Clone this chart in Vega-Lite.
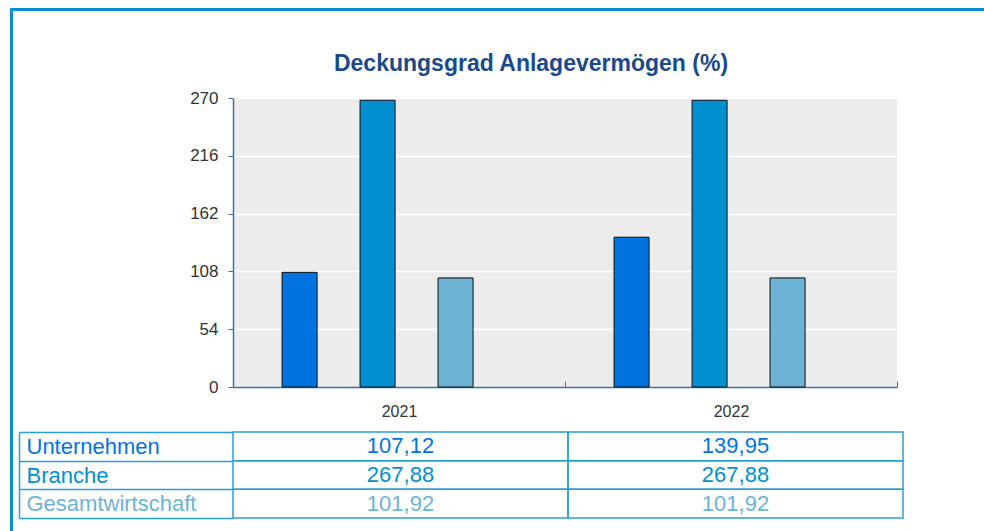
{
  "$schema": "https://vega.github.io/schema/vega-lite/v6.json",
  "background": "white",
  "padding": {"left": 10, "top": 8, "right": 0, "bottom": 0},
  "spacing": 0,
  "datasets": {
    "werte": [
      {"Jahr": "2021", "Reihe": "Unternehmen", "Wert": 107.12},
      {"Jahr": "2021", "Reihe": "Branche", "Wert": 267.88},
      {"Jahr": "2021", "Reihe": "Gesamtwirtschaft", "Wert": 101.92},
      {"Jahr": "2022", "Reihe": "Unternehmen", "Wert": 139.95},
      {"Jahr": "2022", "Reihe": "Branche", "Wert": 267.88},
      {"Jahr": "2022", "Reihe": "Gesamtwirtschaft", "Wert": 101.92}
    ],
    "leer": []
  },
  "config": {
    "font": "Liberation Sans",
    "locale": {"number": {"decimal": ",", "thousands": ".", "grouping": [3], "currency": ["", " €"]}},
    "view": {"stroke": null}
  },
  "vconcat": [
    {
      "width": 974, "height": 3,
      "data": {"name": "leer"},
      "mark": "rect",
      "encoding": {},
      "view": {"fill": "#0a8fd4", "stroke": null}
    },
    {
      "spacing": 5,
      "hconcat": [
        {
          "width": 3, "height": 520,
          "data": {"name": "leer"},
          "mark": "rect",
          "encoding": {},
          "view": {"fill": "#0a8fd4", "stroke": null}
        },
        {
          "spacing": 2,
          "vconcat": [
            {
              "width": 1, "height": 40,
              "data": {"name": "leer"},
              "mark": "rect",
              "encoding": {},
              "view": {"stroke": null}
            },
            {
              "width": 664, "height": 289,
              "data": {"name": "werte"},
              "title": {
                "text": "Deckungsgrad Anlagevermögen (%)",
                "fontSize": 23, "fontWeight": "bold", "color": "#1a4a8a",
                "anchor": "middle", "frame": "group", "dx": -34, "offset": 13
              },
              "view": {"fill": "#ececec", "stroke": null},
              "mark": {"type": "bar", "stroke": "#111111", "strokeWidth": 1},
              "encoding": {
                "x": {
                  "field": "Jahr", "type": "nominal",
                  "scale": {"paddingInner": 0, "paddingOuter": 0},
                  "axis": {
                    "title": null, "labelAngle": 0, "tickBand": "extent",
                    "tickSize": -6, "tickColor": "#3f6fa6", "domainColor": "#3f6fa6", "domainWidth": 1.5,
                    "labelFontSize": 16, "labelColor": "#333333", "labelPadding": 22
                  }
                },
                "xOffset": {
                  "field": "Reihe", "type": "nominal",
                  "scale": {"domain": ["Unternehmen", "Branche", "Gesamtwirtschaft"], "paddingInner": 0.551, "paddingOuter": 0.904, "align": 0.348}
                },
                "y": {
                  "field": "Wert", "type": "quantitative",
                  "scale": {"domain": [0, 270], "nice": false},
                  "axis": {
                    "title": null, "values": [0, 54, 108, 162, 216, 270],
                    "grid": true, "gridColor": "#ffffff", "gridWidth": 1.5,
                    "domainColor": "#3f6fa6", "domainWidth": 1.5, "tickColor": "#3f6fa6", "tickSize": 5,
                    "labelFontSize": 17, "labelColor": "#333333", "labelPadding": 10
                  }
                },
                "color": {
                  "field": "Reihe", "type": "nominal",
                  "scale": {"domain": ["Unternehmen", "Branche", "Gesamtwirtschaft"], "range": ["#0073e0", "#0090d0", "#6db3d5"]},
                  "legend": null
                }
              }
            },
            {
              "width": 670, "height": 86,
              "data": {"name": "werte"},
              "encoding": {
                "x": {"field": "Jahr", "type": "nominal", "scale": {"paddingInner": 0, "paddingOuter": 0}, "axis": null},
                "y": {
                  "field": "Reihe", "type": "nominal",
                  "scale": {"domain": ["Unternehmen", "Branche", "Gesamtwirtschaft"], "paddingInner": 0, "paddingOuter": 0},
                  "axis": {
                    "title": null, "offset": 214, "tickBand": "extent", "tickSize": -214,
                    "tickColor": "#2a9fd8", "tickWidth": 1.5, "domainColor": "#2a9fd8", "domainWidth": 1.5,
                    "labelAlign": "left", "labelPadding": 207, "labelFontSize": 22,
                    "labelColor": {"expr": "datum.value == 'Unternehmen' ? '#0073e0' : datum.value == 'Branche' ? '#0090d0' : '#6db3d5'"}
                  }
                }
              },
              "layer": [
                {"mark": {"type": "rect", "fill": null, "stroke": "#2a9fd8", "strokeWidth": 1.5}},
                {
                  "mark": {"type": "text", "fontSize": 22},
                  "encoding": {
                    "text": {"field": "Wert", "type": "quantitative", "format": ".2f"},
                    "color": {"field": "Reihe", "type": "nominal", "legend": null}
                  }
                }
              ]
            }
          ]
        }
      ]
    }
  ]
}
